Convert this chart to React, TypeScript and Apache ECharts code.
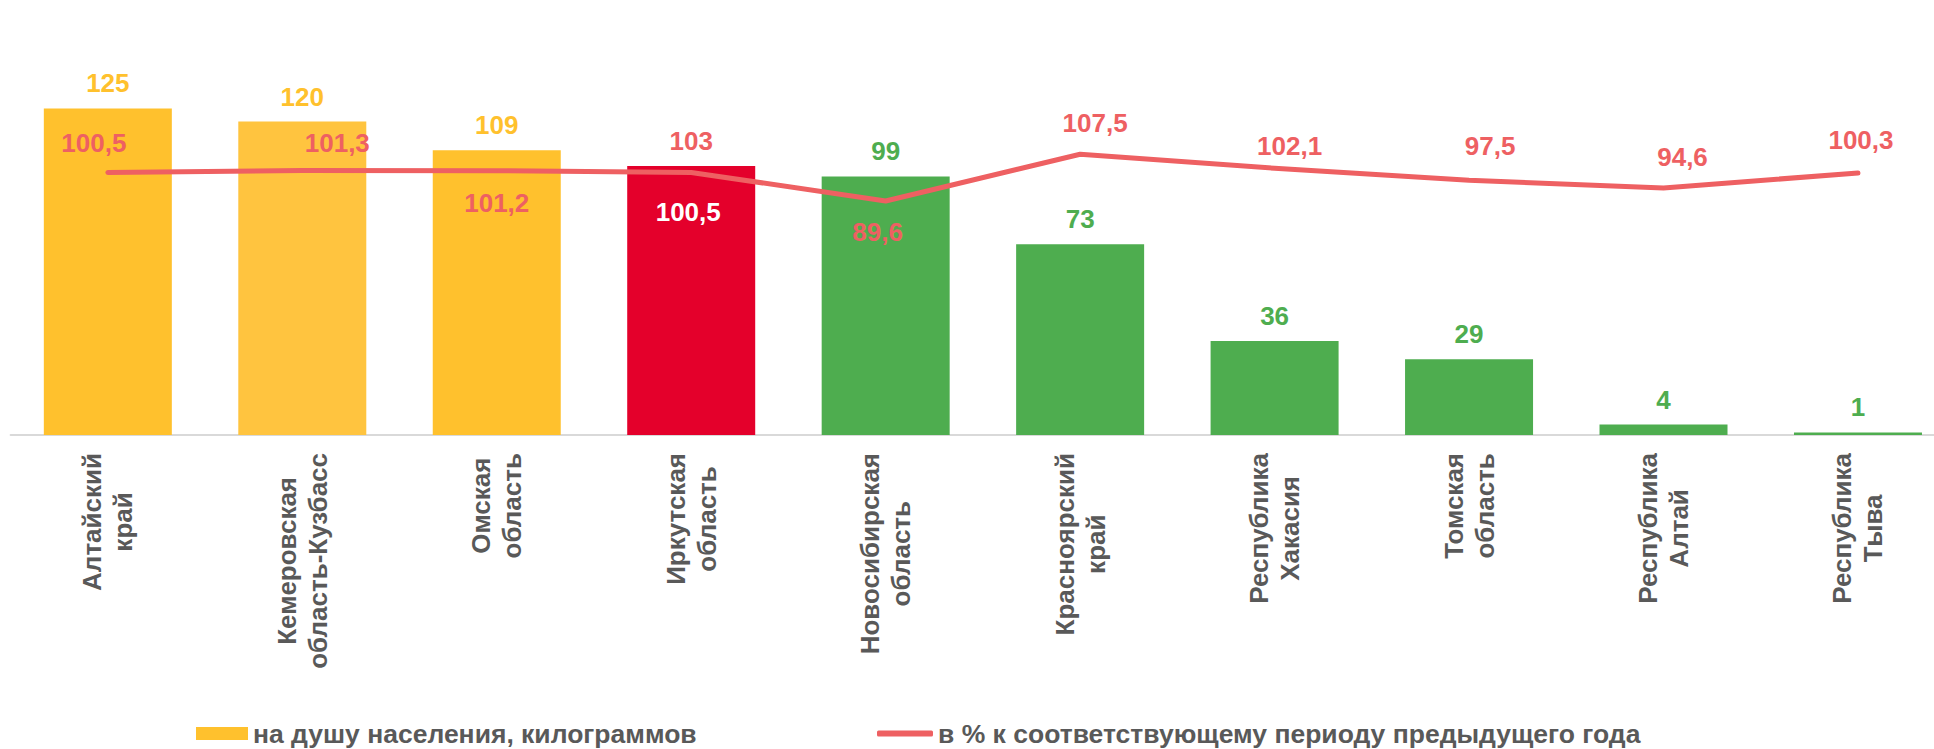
import React, { useEffect, useRef } from "react";
import * as echarts from "echarts";

const categories = [
  "Алтайский\nкрай",
  "Кемеровская\nобласть-Кузбасс",
  "Омская\nобласть",
  "Иркутская\nобласть",
  "Новосибирская\nобласть",
  "Красноярский\nкрай",
  "Республика\nХакасия",
  "Томская\nобласть",
  "Республика\nАлтай",
  "Республика\nТыва",
];
const perCapita = [125, 120, 109, 103, 99, 73, 36, 29, 4, 1];
const percentPrev = [100.5, 101.3, 101.2, 100.5, 89.6, 107.5, 102.1, 97.5, 94.6, 100.3];

const seriesNames = ["на душу населения, килограммов", "в % к соответствующему периоду предыдущего года"];

// styles (separate from data)
const YEL = "#FFC12D";
const YEL2 = "#FFC43F";
const RED = "#E4002B";
const GRN = "#4EAD4F";
const LINE = "#EE6062";
const GREY = "#595959";
const barColors = [YEL, YEL2, YEL, RED, GRN, GRN, GRN, GRN, GRN, GRN];
const barLabelColors = [YEL, YEL, YEL, LINE, GRN, GRN, GRN, GRN, GRN, GRN];
const lineLabelOffsets = [
  [-14, -29],
  [35, -27],
  [0, 32],
  [-3, 40],
  [-8, 31],
  [15, -31],
  [15, -22],
  [21, -34],
  [19, -31],
  [3, -33],
];
const lineLabelColors = [LINE, LINE, LINE, "#FFFFFF", LINE, LINE, LINE, LINE, LINE, LINE];

const FONT = "'Liberation Sans', Arial, sans-serif";
const fmt = (v: number) => String(v).replace(".", ",");

export default function App() {
  const ref = useRef<HTMLDivElement>(null);
  useEffect(() => {
    if (!ref.current) return;
    const chart = echarts.init(ref.current, undefined, { renderer: "svg" });
    chart.setOption({
      animation: false,
      backgroundColor: "#FFFFFF",
      textStyle: { fontFamily: FONT },
      grid: {
        left: 10.6,
        right: -21.2,
        top: 69.3,
        bottom: 314,
        outerBoundsMode: "none",
        containLabel: false,
      },
      legend: [
        {
          left: 196,
          top: 720,
          padding: 0,
          itemWidth: 52,
          itemHeight: 13,
          icon: "rect",
          data: [seriesNames[0]],
          textStyle: { fontSize: 26.5, fontWeight: "bold", color: GREY, fontFamily: FONT, lineHeight: 26 },
        },
        {
          left: 877,
          top: 720,
          padding: 0,
          itemWidth: 56,
          itemHeight: 6,
          icon: "roundRect",
          data: [seriesNames[1]],
          textStyle: { fontSize: 26.5, fontWeight: "bold", color: GREY, fontFamily: FONT, lineHeight: 26 },
        },
      ],
      xAxis: {
        type: "category",
        data: categories,
        axisLine: { show: true, lineStyle: { color: "#D9D9D9", width: 2 } },
        axisTick: { show: false },
        axisLabel: {
          interval: 0,
          rotate: 90,
          margin: 18,
          formatter: (v: string) => v.split("\n").map((l) => `{c|${l}}`).join("\n"),
          rich: {
            c: {
              fontSize: 26,
              fontWeight: "bold",
              color: GREY,
              fontFamily: FONT,
              lineHeight: 31,
              align: "center",
            },
          },
        },
      },
      yAxis: {
        type: "value",
        min: 0,
        max: 140,
        show: false,
        splitLine: { show: false },
      },
      series: [
        {
          name: seriesNames[0],
          type: "bar",
          barWidth: 128,
          itemStyle: { color: YEL },
          data: perCapita.map((v, i) => ({
            value: v,
            itemStyle: { color: barColors[i] },
            label: { color: barLabelColors[i] },
          })),
          label: {
            show: true,
            position: "top",
            distance: 12,
            fontSize: 26,
            fontWeight: "bold",
            fontFamily: FONT,
            lineHeight: 26,
            formatter: (p: any) => fmt(p.value),
          },
        },
        {
          name: seriesNames[1],
          type: "line",
          symbol: "circle",
          symbolSize: 1,
          itemStyle: { color: LINE },
          lineStyle: { color: LINE, width: 5, cap: "round", join: "round" },
          data: percentPrev.map((v, i) => ({
            value: v,
            label: { offset: lineLabelOffsets[i], color: lineLabelColors[i] },
          })),
          label: {
            show: true,
            position: "inside",
            fontSize: 26,
            fontWeight: "bold",
            fontFamily: FONT,
            lineHeight: 26,
            formatter: (p: any) => fmt(p.value),
          },
          z: 3,
        },
      ],
    });
    return () => chart.dispose();
  }, []);
  return (
    <div
      ref={ref}
      style={{ position: "absolute", left: 0, top: 0, width: 1934, height: 749 }}
    />
  );
}
